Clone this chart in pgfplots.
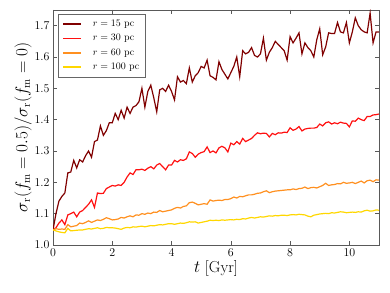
\documentclass[border=0pt]{standalone}
\usepackage{pgfplots}
\pgfplotsset{compat=1.18}
\usepackage{pgfplotstable}
\definecolor{cA}{HTML}{800000}
\definecolor{cB}{HTML}{FF1010}
\definecolor{cC}{HTML}{FF9020}
\definecolor{cD}{HTML}{FFD700}
\pgfplotstableread{
t a b c d
0.0 1.048 1.048 1.048 1.048
0.1 1.100 1.055 1.052 1.045
0.2 1.140 1.070 1.050 1.042
0.3 1.155 1.080 1.051 1.040
0.4 1.166 1.065 1.050 1.039
0.5 1.230 1.096 1.065 1.053
0.6 1.233 1.100 1.058 1.045
0.7 1.270 1.105 1.060 1.046
0.8 1.246 1.090 1.062 1.047
0.9 1.272 1.105 1.070 1.048
1.0 1.265 1.110 1.068 1.048
1.1 1.285 1.120 1.072 1.050
1.2 1.300 1.130 1.077 1.052
1.3 1.280 1.144 1.072 1.051
1.4 1.330 1.120 1.076 1.053
1.5 1.335 1.166 1.080 1.055
1.6 1.380 1.164 1.078 1.052
1.7 1.350 1.165 1.082 1.053
1.8 1.365 1.180 1.087 1.056
1.9 1.390 1.185 1.084 1.055
2.0 1.390 1.190 1.080 1.055
2.1 1.420 1.188 1.081 1.054
2.2 1.400 1.192 1.083 1.052
2.3 1.430 1.190 1.088 1.050
2.4 1.405 1.200 1.086 1.054
2.5 1.440 1.217 1.090 1.056
2.6 1.420 1.230 1.093 1.055
2.7 1.440 1.225 1.090 1.058
2.8 1.445 1.240 1.096 1.057
2.9 1.457 1.240 1.095 1.059
3.0 1.500 1.242 1.100 1.060
3.1 1.440 1.238 1.098 1.058
3.2 1.490 1.245 1.102 1.060
3.3 1.510 1.250 1.100 1.062
3.4 1.470 1.243 1.105 1.061
3.5 1.425 1.255 1.104 1.063
3.6 1.495 1.260 1.110 1.065
3.7 1.500 1.250 1.106 1.064
3.8 1.490 1.240 1.108 1.066
3.9 1.510 1.255 1.110 1.068
4.0 1.490 1.255 1.112 1.068
4.1 1.463 1.270 1.117 1.066
4.2 1.537 1.265 1.120 1.068
4.3 1.520 1.272 1.118 1.070
4.4 1.525 1.270 1.123 1.069
4.5 1.515 1.275 1.125 1.071
4.6 1.565 1.297 1.135 1.074
4.7 1.520 1.292 1.137 1.073
4.8 1.540 1.280 1.133 1.074
4.9 1.550 1.290 1.128 1.070
5.0 1.570 1.295 1.130 1.072
5.1 1.565 1.298 1.132 1.074
5.2 1.590 1.313 1.130 1.076
5.3 1.540 1.295 1.144 1.079
5.4 1.535 1.300 1.140 1.078
5.5 1.527 1.294 1.142 1.079
5.6 1.585 1.310 1.143 1.078
5.7 1.560 1.315 1.142 1.080
5.8 1.545 1.310 1.145 1.079
5.9 1.530 1.297 1.145 1.080
6.0 1.550 1.325 1.148 1.081
6.1 1.570 1.320 1.153 1.080
6.2 1.600 1.330 1.150 1.082
6.3 1.537 1.322 1.155 1.081
6.4 1.620 1.340 1.154 1.084
6.5 1.610 1.330 1.157 1.083
6.6 1.615 1.335 1.160 1.086
6.7 1.630 1.340 1.160 1.088
6.8 1.605 1.350 1.162 1.086
6.9 1.600 1.358 1.165 1.088
7.0 1.610 1.355 1.166 1.090
7.1 1.660 1.357 1.170 1.089
7.2 1.590 1.356 1.173 1.091
7.3 1.615 1.345 1.167 1.093
7.4 1.630 1.356 1.170 1.092
7.5 1.650 1.352 1.172 1.094
7.6 1.640 1.358 1.173 1.093
7.7 1.630 1.357 1.174 1.095
7.8 1.620 1.360 1.175 1.095
7.9 1.590 1.359 1.176 1.094
8.0 1.665 1.374 1.176 1.096
8.1 1.645 1.366 1.179 1.097
8.2 1.660 1.370 1.177 1.096
8.3 1.677 1.378 1.180 1.098
8.4 1.610 1.364 1.181 1.097
8.5 1.645 1.370 1.185 1.096
8.6 1.630 1.372 1.180 1.092
8.7 1.620 1.373 1.183 1.090
8.8 1.600 1.373 1.184 1.095
8.9 1.655 1.375 1.182 1.097
9.0 1.690 1.386 1.186 1.099
9.1 1.607 1.380 1.190 1.100
9.2 1.632 1.390 1.197 1.101
9.3 1.677 1.393 1.190 1.100
9.4 1.675 1.386 1.192 1.103
9.5 1.675 1.390 1.193 1.102
9.6 1.710 1.387 1.196 1.104
9.7 1.680 1.392 1.195 1.106
9.8 1.677 1.389 1.200 1.105
9.9 1.710 1.388 1.197 1.103
10.0 1.645 1.377 1.198 1.104
10.1 1.680 1.396 1.200 1.105
10.2 1.725 1.395 1.196 1.104
10.3 1.700 1.405 1.200 1.106
10.4 1.687 1.400 1.204 1.105
10.5 1.680 1.397 1.198 1.109
10.6 1.677 1.410 1.205 1.111
10.7 1.740 1.410 1.207 1.108
10.8 1.645 1.415 1.202 1.109
10.9 1.680 1.416 1.208 1.112
11.0 1.680 1.418 1.207 1.111
}\data
\begin{document}
\begin{tikzpicture}
\begin{axis}[
  name=ax,
  scale only axis,
  width=326bp, height=235bp,
  xmin=0, xmax=11, ymin=1.0, ymax=1.75,
  xtick={0,2,4,6,8,10},
  ytick={1.0,1.1,1.2,1.3,1.4,1.5,1.6,1.7},
  yticklabel style={/pgf/number format/fixed,/pgf/number format/fixed zerofill,/pgf/number format/precision=1},
  tick label style={font=\fontsize{11.5}{13}\selectfont},
  tick align=inside,
  major tick length=4bp,
  axis line style={black!65},
  every tick/.style={black!65},
  xlabel={$t$ [Gyr]},
  ylabel={$\sigma_{\rm r}(f_{\rm m}=0.5)/\sigma_{\rm r}(f_{\rm m}=0)$},
  label style={font=\fontsize{16}{19}\selectfont},
  xlabel style={yshift=2bp},
  ylabel style={yshift=-4bp},
  legend style={at={(axis cs:0.17,1.738)},anchor=north west, draw=black!60, fill=white,
     font=\fontsize{10}{12}\selectfont, row sep=2.5bp, inner sep=4bp,
     /tikz/every odd column/.append style={column sep=9bp}},
  legend image code/.code={\draw[#1,line width=1.6pt] (0bp,0bp) -- (18bp,0bp);},
  legend cell align=left,
  every axis plot/.append style={line width=1.2pt},
]
\addplot[cA] table[x=t,y=a]{\data};
\addlegendentry{$r=15$ pc}
\addplot[cB] table[x=t,y=b]{\data};
\addlegendentry{$r=30$ pc}
\addplot[cC] table[x=t,y=c]{\data};
\addlegendentry{$r=60$ pc}
\addplot[cD] table[x=t,y=d]{\data};
\addlegendentry{$r=100$ pc}
\end{axis}
\pgfresetboundingbox
\path[use as bounding box] ([shift={(-53bp,-48bp)}]ax.south west) rectangle ([shift={(11bp,10bp)}]ax.north east);
\end{tikzpicture}
\end{document}
